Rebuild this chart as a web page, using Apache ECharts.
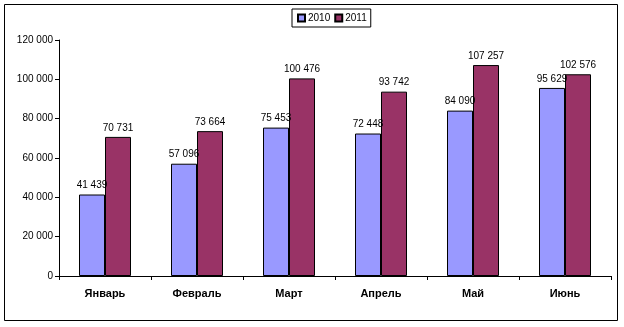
<!DOCTYPE html>
<html><head><meta charset="utf-8">
<script src="https://cdn.jsdelivr.net/npm/echarts@6/dist/echarts.min.js"></script>
<style>html,body{margin:0;padding:0;background:#fff}#c{width:624px;height:327px}</style>
</head><body><div id="c"></div>
<script>
const categories = ['Январь','Февраль','Март','Апрель','Май','Июнь'];
const seriesNames = ['2010','2011'];
const values2010 = [41439, 57096, 75453, 72448, 84090, 95629];
const values2011 = [70731, 73664, 100476, 93742, 107257, 102576];
const yTicks = [0, 20000, 40000, 60000, 80000, 100000, 120000];

function fmt(v){ return String(v).replace(/\B(?=(\d{3})+(?!\d))/g,' '); }

const chart = echarts.init(document.getElementById('c'), null, {renderer:'canvas'});
const labelCfg = {show:true, position:'top', distance:4, color:'#000', fontFamily:'Arial, Liberation Sans', fontSize:10, formatter:p=>fmt(p.value)};
chart.setOption({
  animation:false,
  backgroundColor:'#fff',
  graphic:[{type:'rect', shape:{x:4.5,y:4.5,width:613,height:316}, style:{fill:'none', stroke:'#000', lineWidth:1}, silent:true}],
  legend:{
    data:seriesNames, top:9, left:292, itemWidth:7, itemHeight:7, itemGap:4,
    icon:'rect', borderColor:'#000', borderWidth:1, padding:[4,4,4,5],
    textStyle:{fontFamily:'Arial, Liberation Sans', fontSize:10, color:'#000', padding:[0,0,0,-2]}
  },
  grid:{left:59, top:40, width:552, height:236},
  xAxis:{
    type:'category', data:categories,
    axisLine:{lineStyle:{color:'#000', width:1}},
    axisTick:{show:true, length:4, lineStyle:{color:'#000'}},
    axisLabel:{color:'#000', fontFamily:'Arial, Liberation Sans', fontWeight:'bold', fontSize:11, margin:12}
  },
  yAxis:{
    type:'value', min:yTicks[0], max:yTicks[yTicks.length-1], interval:20000,
    axisLine:{show:true, lineStyle:{color:'#000'}},
    axisTick:{show:true, length:4, lineStyle:{color:'#000'}},
    splitLine:{show:false},
    axisLabel:{color:'#000', fontFamily:'Arial, Liberation Sans', fontSize:10, margin:6, formatter:v=>fmt(v)}
  },
  series:[
    {name:seriesNames[0], type:'bar', data:values2010, barWidth:26, barGap:'0%',
     itemStyle:{color:'#9999FF', borderColor:'#000', borderWidth:1}, label:labelCfg},
    {name:seriesNames[1], type:'bar', data:values2011, barWidth:26, barGap:'0%',
     itemStyle:{color:'#993366', borderColor:'#000', borderWidth:1}, label:labelCfg}
  ]
});
</script></body></html>
